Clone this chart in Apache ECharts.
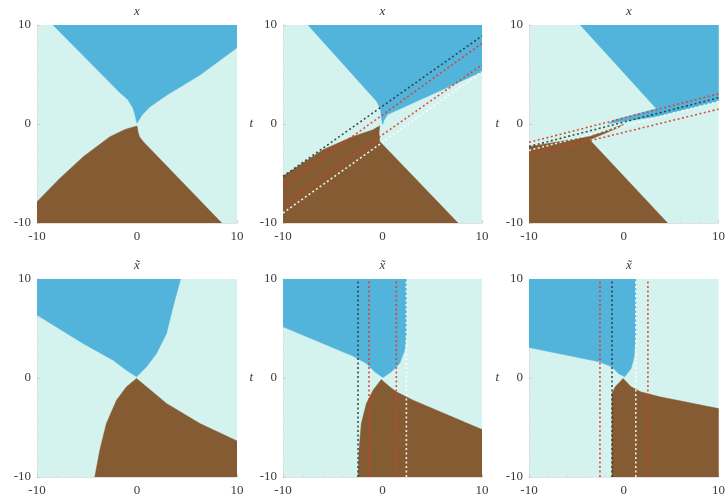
<!DOCTYPE html>
<html>
<head>
<meta charset="utf-8">
<script src="https://cdn.jsdelivr.net/npm/echarts@6/dist/echarts.min.js"></script>
<style>
  html, body { margin: 0; padding: 0; background: #ffffff; }
  #chart { width: 728px; height: 497px; }
</style>
</head>
<body>
<div id="chart"></div>
<script>
// Axis ticks shared by every panel
const xTicks = [-10, 0, 10];
const tTicks = [-10, 0, 10];
const topTitle = 'x';
const bottomTitle = 'x\u0303';
const sideLabel = 't';

// Panel 1 (x, t): region boundaries as [x, t] vertices
const p1Blue = [[-8.4, 10], [10, 10], [10, 7.7], [6.3, 4.95], [3.0, 2.93], [1.3, 1.75], [0.5, 0.9], [0.2, 0.4], [0.0, 0.07],
  [-0.2, 0.9], [-0.4, 1.6], [-0.9, 2.45], [-1.7, 3.15]];
const p1Brown = [[0.0, -0.2], [-1.2, -0.55], [-2.7, -1.28], [-5.37, -3.3], [-7.7, -5.48], [-10, -7.85], [-10, -10], [8.47, -10],
  [0.63, -1.79], [0.25, -1.3], [0.13, -0.94]];

// Panel 2 (x, t)
const p2Blue = [[-7.49, 10], [10, 10], [10, 5.29], [5.0, 3.0], [0.5, 0.95], [0.15, 0.35], [0.02, -0.05],
  [-0.1, 0.5], [-0.2, 1.5], [-0.6, 2.3]];
const p2Brown = [[-0.28, -0.18], [-0.95, -0.59], [-2.97, -1.26], [-5.98, -2.61], [-10, -5.29], [-10, -10],
  [7.59, -10], [-0.28, -1.76], [-0.35, -0.92]];
const p2Black = [[-10, -5.29], [10, 8.89]];
const p2RedA = [[-10, -6.3], [10, 8.15]];
const p2RedB = [[-10, -8.15], [10, 5.97]];
const p2White = [[-10, -8.99], [10, 5.29]];

// Panel 3 (x, t)
const p3Blue = [[-4.59, 10], [10, 10], [10, 2.3], [3.45, 0.75], [-1.6, 0.05], [-1.0, 0.4], [3.45, 1.55]];
const p3Brown = [[-10, -2.3], [-3.6, -1.25], [0.0, -0.05], [-0.3, -0.25], [-3.6, -1.6], [4.62, -10], [-10, -10]];
const p3RedA = [[-10, -1.85], [10, 3.05]];
const p3Black = [[-10, -2.27], [10, 2.65]];
const p3White = [[-10, -2.67], [10, 2.27]];
const p3RedB = [[-10, -3.2], [10, 1.5]];

// Panel 4 (x~, t)
const p4Blue = [[-10, 10], [4.36, 10], [3.62, 7.24], [2.95, 4.5], [1.95, 2.48], [0.95, 1.13], [-0.05, 0.12],
  [-1.05, 0.79], [-2.39, 1.8], [-5.39, 3.49], [-10, 6.36]];
const p4Brown = [[-0.05, -0.05], [0.95, -0.89], [2.95, -2.58], [6.29, -4.6], [10, -6.36], [10, -10], [-4.22, -10],
  [-3.72, -7.3], [-3.06, -4.6], [-2.05, -2.24], [-1.05, -0.89]];

// Panel 5 (x~, t)
const p5Blue = [[-10, 10], [2.4, 10], [2.4, 4.5], [2.23, 2.82], [1.73, 1.47], [0.89, 0.62], [0.05, 0.05],
  [-0.79, 0.62], [-1.62, 1.47], [-2.97, 2.21], [-10, 5.17]];
const p5Brown = [[-0.12, -0.15], [0.72, -0.89], [1.39, -1.4], [3.07, -2.24], [10, -5.21], [10, -10], [-2.46, -10],
  [-2.36, -7.3], [-2.13, -4.6], [-1.62, -2.58], [-0.95, -1.23]];
const p5Black = [[-2.46, -10], [-2.46, 10]];
const p5RedA = [[-1.36, -10], [-1.36, 10]];
const p5RedB = [[1.39, -10], [1.39, 10]];
const p5White = [[2.4, -10], [2.4, 10]];

// Panel 6 (x~, t)
const p6Blue = [[-10, 10], [1.27, 10], [1.27, 4.5], [1.1, 2.14], [0.77, 0.96], [0.1, 0.12], [-0.57, 0.46],
  [-1.24, 1.13], [-2.58, 1.63], [-10, 3.09]];
const p6Brown = [[-0.07, -0.05], [0.77, -0.89], [1.78, -1.4], [3.79, -1.9], [10, -3.09], [10, -10], [-1.24, -10],
  [-1.24, -1.57], [-0.9, -0.89]];
const p6RedA = [[-2.51, -10], [-2.51, 10]];
const p6Black = [[-1.24, -10], [-1.24, 10]];
const p6White = [[1.27, -10], [1.27, 10]];
const p6RedB = [[2.55, -10], [2.55, 10]];

const CYAN = '#d5f3ee';
const BLUE = '#52b4da';
const BROWN = '#855b33';
const SERIF = '"Liberation Serif", "DejaVu Serif", serif';

const grids = [
  { left: 37, top: 25, width: 200, height: 198 },
  { left: 283, top: 25, width: 199, height: 198 },
  { left: 529, top: 25, width: 200, height: 198 },
  { left: 37, top: 279, width: 200, height: 198 },
  { left: 283, top: 279, width: 199, height: 198 },
  { left: 529, top: 279, width: 200, height: 198 }
];

const panels = [
  { blue: p1Blue, brown: p1Brown, lines: [], title: topTitle, side: false },
  { blue: p2Blue, brown: p2Brown, lines: [[p2Black, '#2b3a3a'], [p2RedA, '#e03a2a'], [p2RedB, '#e03a2a'], [p2White, '#ffffff']], title: topTitle, side: true },
  { blue: p3Blue, brown: p3Brown, lines: [[p3RedA, '#e03a2a'], [p3Black, '#2b3a3a'], [p3White, '#ffffff'], [p3RedB, '#e03a2a']], title: topTitle, side: true },
  { blue: p4Blue, brown: p4Brown, lines: [], title: bottomTitle, side: false },
  { blue: p5Blue, brown: p5Brown, lines: [[p5Black, '#2b3a3a'], [p5RedA, '#e03a2a'], [p5RedB, '#e03a2a'], [p5White, '#ffffff']], title: bottomTitle, side: true },
  { blue: p6Blue, brown: p6Brown, lines: [[p6RedA, '#e03a2a'], [p6Black, '#2b3a3a'], [p6White, '#ffffff'], [p6RedB, '#e03a2a']], title: bottomTitle, side: true }
];

function axisCommon(i) {
  return {
    type: 'value', gridIndex: i, min: xTicks[0], max: xTicks[xTicks.length - 1], interval: 10,
    axisLine: { show: true, onZero: false, lineStyle: { color: '#e2e2e2', width: 1 } },
    axisTick: { show: true, inside: true, length: 3, lineStyle: { color: '#cfcfcf' } },
    minorTick: { show: true, splitNumber: 5, length: 2, lineStyle: { color: '#dcdcdc' } },
    splitLine: { show: false },
    axisLabel: { fontFamily: SERIF, fontSize: 13, color: '#3a3a3a' }
  };
}

const xAxes = [], yAxes = [], series = [], titles = [];
panels.forEach((p, i) => {
  const xa = axisCommon(i);
  xa.axisLabel.margin = 7;
  xAxes.push(xa);
  const ya = axisCommon(i);
  ya.min = tTicks[0]; ya.max = tTicks[tTicks.length - 1];
  ya.axisLabel.margin = 6;
  if (p.side) {
    ya.name = sideLabel;
    ya.nameLocation = 'middle';
    ya.nameRotate = 0;
    ya.nameGap = 30;
    ya.nameTextStyle = { fontFamily: SERIF, fontStyle: 'italic', fontSize: 13, color: '#3a3a3a' };
  }
  yAxes.push(ya);

  const g = grids[i];
  titles.push({
    text: p.title, left: g.left + g.width / 2, top: g.top - 20, textAlign: 'center', padding: 0,
    textStyle: { fontFamily: SERIF, fontStyle: 'italic', fontWeight: 'normal', fontSize: 13, color: '#3a3a3a' }
  });

  [[p.blue, BLUE], [p.brown, BROWN]].forEach(([pts, color]) => {
    series.push({
      type: 'custom', xAxisIndex: i, yAxisIndex: i, silent: true, clip: true,
      data: [[0, 0]],
      renderItem: (params, api) => ({
        type: 'polygon',
        shape: { points: pts.map(q => api.coord(q)), smooth: 0 },
        style: { fill: color, stroke: color, lineWidth: 0.5 }
      })
    });
  });

  p.lines.forEach(([pts, color]) => {
    series.push({
      type: 'line', xAxisIndex: i, yAxisIndex: i, data: pts, symbol: 'none', silent: true,
      lineStyle: { color: color, width: 1.6, type: [2, 2.5], opacity: 0.9 }
    });
  });
});

const chart = echarts.init(document.getElementById('chart'), null, { renderer: 'canvas' });
chart.setOption({
  animation: false,
  backgroundColor: '#ffffff',
  title: titles,
  grid: grids.map(g => Object.assign({ show: true, backgroundColor: CYAN, borderWidth: 0 }, g)),
  xAxis: xAxes,
  yAxis: yAxes,
  series: series
});
</script>
</body>
</html>
